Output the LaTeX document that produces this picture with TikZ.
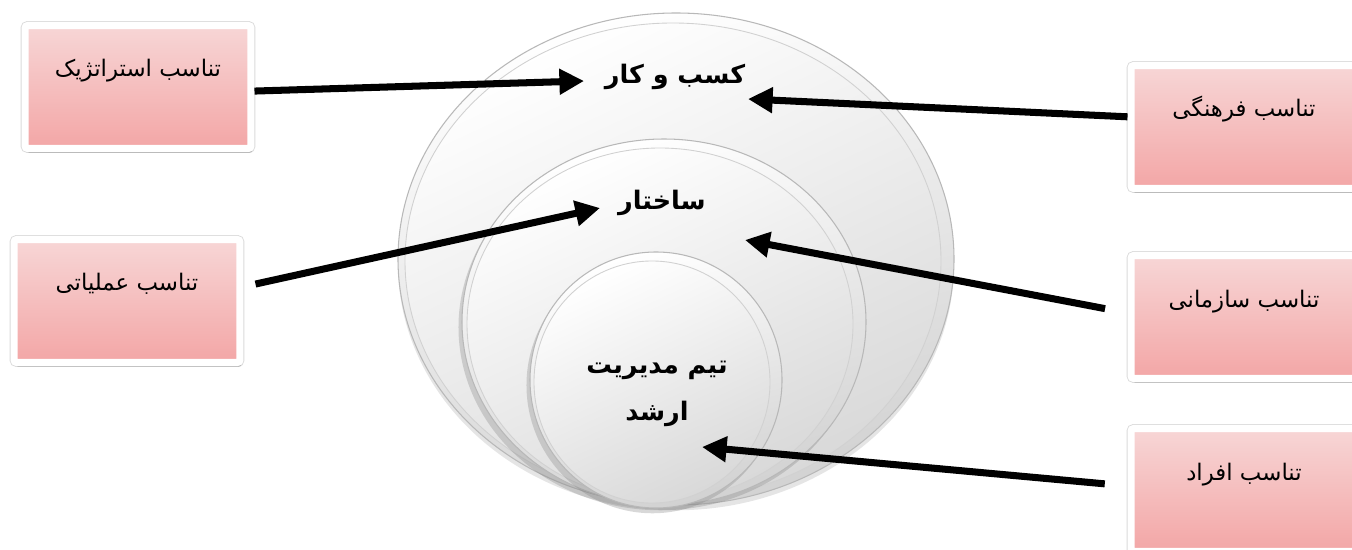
\documentclass[tikz,border=0pt]{standalone}
\usepackage{fontspec}
\usepackage{xcolor}
\usepackage{tikz}
\usetikzlibrary{arrows.meta,shadows}
\newfontfamily\farsi[Script=Arabic]{DejaVu Sans}
\TeXXeTstate=1
\newcommand{\fa}[1]{{\farsi\beginR #1\endR}}

\definecolor{pinktop}{RGB}{247,214,214}
\definecolor{pinkbot}{RGB}{243,166,166}
\definecolor{ringgray}{RGB}{210,210,210}

\tikzset{
  fitbox/.style={rectangle, draw=white, line width=4pt, rounded corners=1.5pt,
    top color=pinktop, bottom color=pinkbot,
    minimum width=4.52cm, minimum height=2.46cm,
    text height=0.35cm, text depth=0.75cm,
    font=\fontsize{13}{15}\selectfont,
    preaction={draw=black!14, line width=5pt},
    drop shadow={opacity=0.35, shadow xshift=1pt, shadow yshift=-2.5pt}},
  ringlabel/.style={font=\fontsize{14.5}{27}\selectfont\bfseries, align=center},
  ring/.style={shading=axis, top color=white, bottom color=ringgray,
    shading angle=15, draw=black!28, line width=0.6pt},
  ringin/.style={shading=axis, top color=white, bottom color=ringgray!85,
    shading angle=25, draw=black!18, line width=0.5pt},
  fitarrow/.style={line width=4pt, -{Triangle[length=14pt,width=14pt]}}
}

\begin{document}
\begin{tikzpicture}[x=0.02cm,y=-0.02cm]
  \useasboundingbox[fill=white] (0,0) rectangle (1352,550);

  % nested rings
  \path[ring, drop shadow={opacity=0.2, shadow xshift=0pt, shadow yshift=-3pt}]
    (676,259) ellipse [x radius=278, y radius=246];
  \path[ringin] (673,261) ellipse [x radius=268, y radius=238];
  \path[ring, drop shadow={opacity=0.3, shadow xshift=-2pt, shadow yshift=-3pt}]
    (664,322) ellipse [x radius=202, y radius=183];
  \path[ringin] (660,324) ellipse [x radius=193, y radius=176];
  \path[ring, drop shadow={opacity=0.3, shadow xshift=-2pt, shadow yshift=-3pt}]
    (656,380) ellipse [x radius=126, y radius=128];
  \path[ringin] (652,382) ellipse [x radius=118, y radius=121];

  % ring labels
  \node[ringlabel] (biz) at (675,77) {\fa{کسب و کار}};
  \node[ringlabel] (struct) at (662,203) {\fa{ساختار}};
  \node[ringlabel] (team) at (657,394) {\fa{تیم مدیریت}\\\fa{ارشد}};

  % fit boxes
  \node[fitbox] (strat) at (138,87) {\fa{تناسب استراتژیک}};
  \node[fitbox] (oper) at (127,301) {\fa{تناسب عملیاتی}};
  \node[fitbox] (cult) at (1244,127) {\fa{تناسب فرهنگی}};
  \node[fitbox] (org) at (1244,317) {\fa{تناسب سازمانی}};
  \node[fitbox] (indiv) at (1244,490) {\fa{تناسب افراد}};

  % arrow tips
  \coordinate (bizL) at (584,81);
  \coordinate (bizR) at (748,99);
  \coordinate (structL) at (600,208);
  \coordinate (structR) at (745,240);
  \coordinate (teamR) at (702,447);

  \draw[fitarrow] (strat.-2) -- (bizL);
  \draw[fitarrow] (cult.175) -- (bizR);
  \draw[fitarrow, shorten <=7pt] (oper.7) -- (structL);
  \draw[fitarrow, shorten <=13pt] (org.178) -- (structR);
  \draw[fitarrow, shorten <=13pt] (indiv.178) -- (teamR);
\end{tikzpicture}
\end{document}
